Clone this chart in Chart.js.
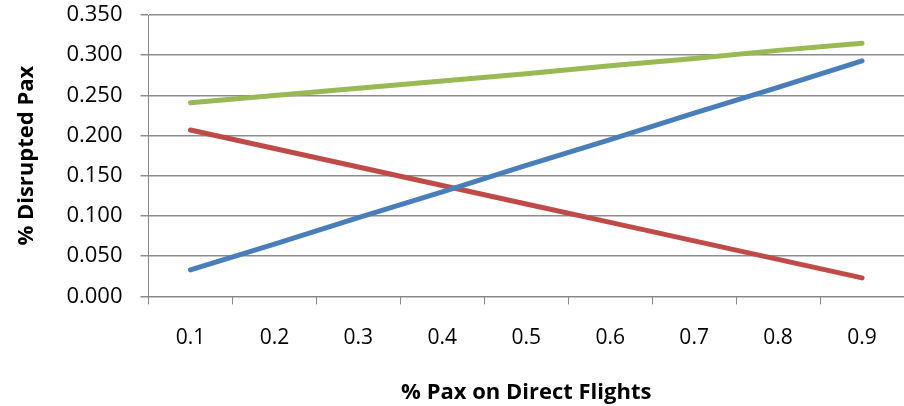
<!DOCTYPE html>
<html>
<head>
<meta charset="utf-8">
<script src="https://cdn.jsdelivr.net/npm/chart.js@4.4.0/dist/chart.umd.min.js"></script>
<style>
  html, body { margin: 0; padding: 0; background: #fff; }
  #wrap { width: 904px; height: 406px; }
</style>
</head>
<body>
<div id="wrap"><canvas id="chart"></canvas></div>
<script>
const categories = ['0.1', '0.2', '0.3', '0.4', '0.5', '0.6', '0.7', '0.8', '0.9'];
const blueSeries  = [0.033, 0.065, 0.098, 0.130, 0.163, 0.195, 0.228, 0.260, 0.293];
const redSeries   = [0.207, 0.184, 0.161, 0.138, 0.115, 0.092, 0.069, 0.046, 0.023];
const greenSeries = [0.241, 0.250, 0.259, 0.268, 0.277, 0.287, 0.296, 0.306, 0.315];

const font = "'Open Sans', 'Liberation Sans', sans-serif";

function line(data, color) {
    return {
        data: data,
        borderColor: color,
        backgroundColor: color,
        borderWidth: 5,
        borderCapStyle: 'round',
        pointRadius: 0,
        tension: 0
    };
}

new Chart(document.querySelector('#chart').getContext('2d'), {
    type: 'line',
    data: {
        labels: categories,
        datasets: [
            line(blueSeries, '#4a7ebb'),
            line(redSeries, '#be4b48'),
            line(greenSeries, '#98b954')
        ]
    },
    options: {
        responsive: true,
        maintainAspectRatio: false,
        animation: false,
        layout: { padding: { top: 0, right: 0, bottom: 0, left: 0 } },
        plugins: { legend: { display: false }, tooltip: { enabled: false } },
        scales: {
            x: {
                offset: true,
                grid: { offset: true, drawOnChartArea: false, drawTicks: true, tickLength: 8, color: '#888' },
                border: { color: '#888', width: 1 },
                ticks: { color: '#000', font: { family: font, size: 21 }, padding: 21 },
                title: { display: true, text: '% Pax on Direct Flights', color: '#000',
                         font: { family: font, size: 22, weight: 'bold' }, padding: { top: 8, bottom: 0 } }
            },
            y: {
                min: 0, max: 0.35,
                grid: { color: '#8c8c8c', lineWidth: 1.5, tickLength: 8 },
                border: { color: '#888', width: 1 },
                ticks: { stepSize: 0.05, color: '#000', font: { family: font, size: 22 }, padding: 18,
                         callback: v => v.toFixed(3) },
                title: { display: true, text: '% Disrupted Pax', color: '#000',
                         font: { family: font, size: 22, weight: 'bold' }, padding: { top: 14, bottom: 8 } },
                afterFit: s => { s.paddingTop = 15; s.paddingBottom = 13; }
            }
        }
    }
});
</script>
</body>
</html>
